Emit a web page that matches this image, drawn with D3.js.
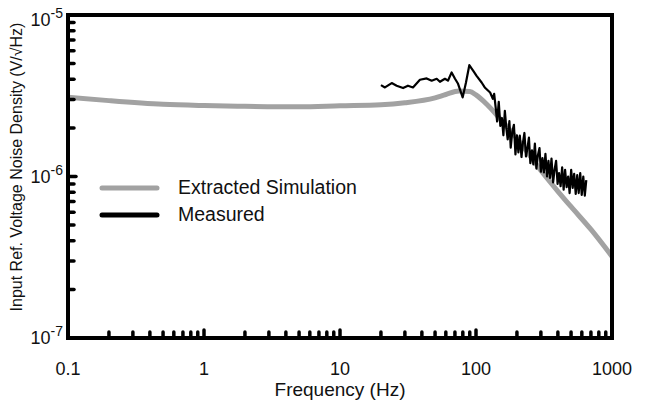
<!DOCTYPE html>
<html><head><meta charset="utf-8">
<script src="https://cdn.jsdelivr.net/npm/d3@7"></script>
<style>body{margin:0;background:#fff}svg{display:block}text{font-family:Arial,"Liberation Sans",sans-serif;fill:#111}</style>
</head><body><svg id="c" width="647" height="402"></svg>
<script>
const xTickValues = [0.1, 1, 10, 100, 1000];
const xTickLabels = ["0.1", "1", "10", "100", "1000"];
const yTickValues = [1e-7, 1e-6, 1e-5];
const yTickExponents = ["-7", "-6", "-5"];
const xTitle = "Frequency (Hz)";
const yTitle = "Input Ref. Voltage Noise Density (V/\u221AHz)";
const seriesNames = ["Extracted Simulation", "Measured"];

const simFreq = [0.1, 0.2, 0.5, 1, 2, 5, 10, 20, 30, 50, 60, 75, 90, 100, 120, 150, 200, 300, 400, 500, 700, 1000];
const simValue = [3.1e-6, 2.95e-6, 2.8e-6, 2.75e-6, 2.72e-6, 2.7e-6, 2.74e-6, 2.78e-6, 2.86e-6, 3.07e-6, 3.22e-6, 3.38e-6, 3.36e-6, 3.2e-6, 2.8e-6, 2.28e-6, 1.72e-6, 1.09e-6, 8.1e-7, 6.5e-7, 4.7e-7, 3.2e-7];

const measFreq = [20.0, 21.4, 24.0, 26.1, 29.1, 31.6, 34.4, 38.7, 43.4, 47.2, 51.4, 54.3, 59.1, 62.2, 66.2, 70.1, 73.8, 79.8, 84.4, 89.3, 95.5, 101, 110, 116, 127, 133,
  136, 140, 143, 147, 151, 155, 159, 163, 167, 171, 176, 180, 185, 190, 195, 200, 205, 210, 216, 221, 227, 233, 239, 245, 251, 258, 264, 271, 278, 285, 293, 300, 308, 316, 324, 333, 341, 350, 359, 369, 378, 388, 398, 408, 419, 430, 441, 452, 464, 476, 488, 501, 514, 527, 541, 555, 569, 584, 599, 615, 631, 647];
const measValue = [3.68e-6, 3.56e-6, 3.79e-6, 3.65e-6, 3.53e-6, 3.65e-6, 3.56e-6, 3.97e-6, 4.05e-6, 3.92e-6, 4.03e-6, 3.86e-6, 4.03e-6, 3.92e-6, 4.41e-6, 4.03e-6, 3.75e-6, 3.09e-6, 3.82e-6, 4.89e-6, 4.51e-6, 4.2e-6, 3.82e-6, 3.56e-6, 3.31e-6, 3.03e-6,
  3.25e-6, 2.6e-6, 2.19e-6, 2.9e-6, 2.06e-6, 2.3e-6, 1.8e-6, 2.55e-6, 2.0e-6, 1.7e-6, 2.2e-6, 1.51e-6, 1.9e-6, 2.09e-6, 1.37e-6, 1.8e-6, 1.41e-6, 1.79e-6, 1.32e-6, 1.6e-6, 1.86e-6, 1.33e-6, 1.5e-6, 1.74e-6, 1.21e-6, 1.45e-6, 1.19e-6, 1.6e-6, 1.12e-6, 1.35e-6, 1.5e-6, 1.07e-6, 1.3e-6, 1.06e-6, 1.38e-6, 1.0e-6, 1.25e-6, 9.8e-7, 1.29e-6, 9.2e-7, 1.1e-6, 1.25e-6, 9.0e-7, 1.05e-6, 8.7e-7, 1.14e-6, 8.3e-7, 1.1e-6, 8.6e-7, 1.0e-6, 7.9e-7, 1.1e-6, 8.5e-7, 1.04e-6, 7.8e-7, 1.02e-6, 7.9e-7, 1.05e-6, 7.7e-7, 1.0e-6, 7.6e-7, 9.5e-7];

const svg = d3.select("#c");
const L = 68, R = 612, T = 15, B = 338;
const x = d3.scaleLog().domain([0.1, 1000]).range([L, R]);
const y = d3.scaleLog().domain([1e-7, 1e-5]).range([B, T]);

// simulation curve
svg.append("path")
  .datum(simFreq.map((f, i) => [f, simValue[i]]))
  .attr("d", d3.line().x(d => x(d[0])).y(d => y(d[1])).curve(d3.curveMonotoneX))
  .attr("fill", "none").attr("stroke", "#a2a2a2").attr("stroke-width", 5);

// measured curve
svg.append("path")
  .datum(measFreq.map((f, i) => [f, measValue[i]]))
  .attr("d", d3.line().x(d => x(d[0])).y(d => y(d[1])))
  .attr("fill", "none").attr("stroke", "#000").attr("stroke-width", 2.2).attr("stroke-linejoin", "round");

// minor / major ticks
const isMajor = d => Math.abs(Math.log10(d) - Math.round(Math.log10(d))) < 1e-9;
const xt = [];
for (let e = -1; e < 3; e++) for (let m = 1; m < 10; m++) { const v = m * Math.pow(10, e); if (v > 0.1 * 1.0001) xt.push(v); }
svg.append("g").selectAll("line").data(xt).join("line")
  .attr("x1", d => x(d)).attr("x2", d => x(d))
  .attr("y1", B).attr("y2", d => B - (isMajor(d) ? 8 : 6))
  .attr("stroke", "#000").attr("stroke-width", 3.5).attr("stroke-linecap", "round");
const yt = [];
for (let e = -7; e < -5; e++) for (let m = 1; m < 10; m++) { const v = m * Math.pow(10, e); if (v > 1e-7 * 1.0001) yt.push(v); }
svg.append("g").selectAll("line").data(yt).join("line")
  .attr("y1", d => y(d)).attr("y2", d => y(d))
  .attr("x1", L).attr("x2", d => L + (isMajor(d) ? 8 : 6))
  .attr("stroke", "#000").attr("stroke-width", 3.5).attr("stroke-linecap", "round");

// frame
svg.append("rect").attr("x", L).attr("y", T).attr("width", R - L).attr("height", B - T)
  .attr("fill", "none").attr("stroke", "#000").attr("stroke-width", 4);

// x tick labels
svg.append("g").selectAll("text").data(xTickValues).join("text")
  .attr("x", d => x(d)).attr("y", 375).attr("text-anchor", "middle")
  .attr("font-size", 18).text((d, i) => xTickLabels[i]);

// y tick labels
const yl = svg.append("g").selectAll("text").data(yTickValues).join("text")
  .attr("x", 63).attr("y", (d, i) => y(d) + (i === 2 ? 11 : 6)).attr("text-anchor", "end").attr("font-size", 18);
yl.append("tspan").text("10");
yl.append("tspan").attr("dy", -8).attr("font-size", 14).text((d, i) => yTickExponents[i]);

// axis titles
svg.append("text").attr("x", 340).attr("y", 396).attr("text-anchor", "middle").attr("font-size", 19).text(xTitle);
svg.append("text").attr("transform", "translate(22,167) rotate(-90)").attr("text-anchor", "middle").attr("font-size", 16).text(yTitle);

// legend
const leg = svg.append("g");
const legColors = ["#a2a2a2", "#000"];
const legY = [188, 215];
seriesNames.forEach((n, i) => {
  leg.append("line").attr("x1", 102).attr("x2", 157).attr("y1", legY[i]).attr("y2", legY[i])
    .attr("stroke", legColors[i]).attr("stroke-width", 5).attr("stroke-linecap", "round");
  leg.append("text").attr("x", 178).attr("y", legY[i] + 6).attr("font-size", 19.5).text(n);
});
</script></body></html>
